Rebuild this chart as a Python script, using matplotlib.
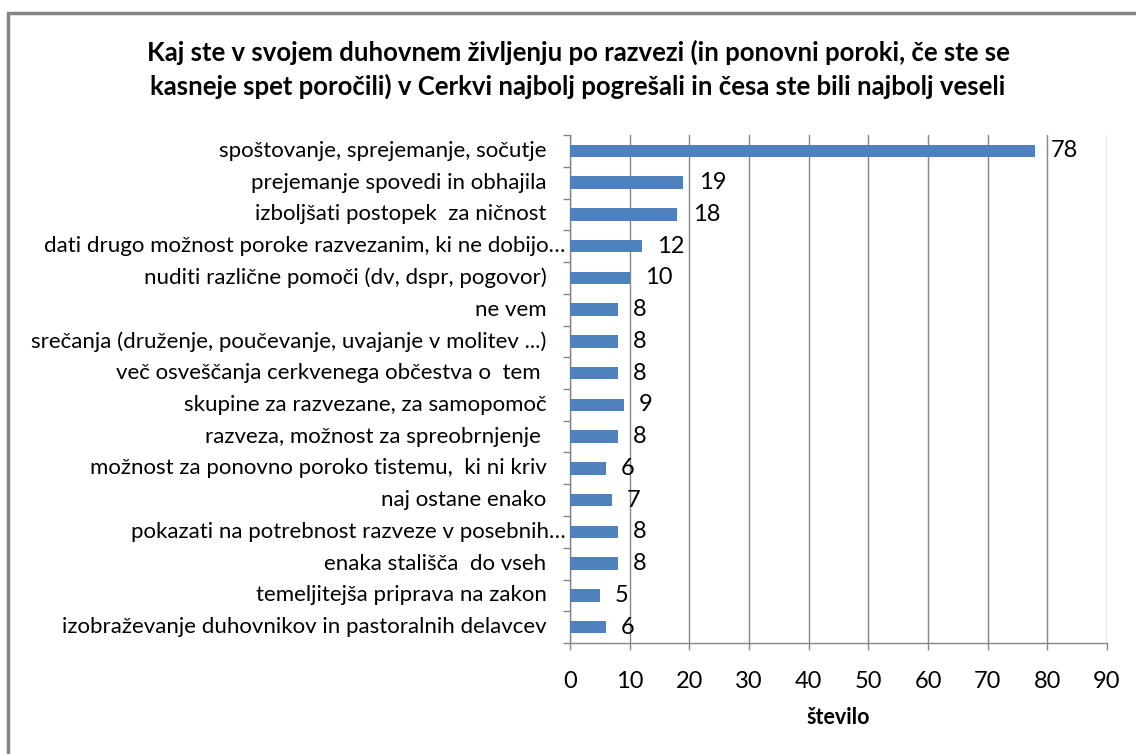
import matplotlib
matplotlib.use("Agg")
import matplotlib.pyplot as plt
import numpy as np
from matplotlib.patches import Rectangle

plt.rcParams['font.family'] = ['Lato', 'DejaVu Sans']

# data (top to bottom as in the chart)
categories = [
    "spoštovanje, sprejemanje, sočutje",
    "prejemanje spovedi in obhajila",
    "izboljšati postopek  za ničnost",
    "dati drugo možnost poroke razvezanim, ki ne dobijo…",
    "nuditi različne pomoči (dv, dspr, pogovor)",
    "ne vem",
    "srečanja (druženje, poučevanje, uvajanje v molitev ...)",
    "več osveščanja cerkvenega občestva o  tem ",
    "skupine za razvezane, za samopomoč",
    "razveza, možnost za spreobrnjenje ",
    "možnost za ponovno poroko tistemu,  ki ni kriv",
    "naj ostane enako",
    "pokazati na potrebnost razveze v posebnih…",
    "enaka stališča  do vseh",
    "temeljitejša priprava na zakon",
    "izobraževanje duhovnikov in pastoralnih delavcev",
]
values = [78, 19, 18, 12, 10, 8, 8, 8, 9, 8, 6, 7, 8, 8, 5, 6]
truncated = {3, 12}

title = ("Kaj ste v svojem duhovnem življenju po razvezi (in ponovni poroki, če ste se\n"
         "kasneje spet poročili) v Cerkvi najbolj pogrešali in česa ste bili najbolj veseli")

grey = '#868686'
bar_color = '#4F81BD'

fig = plt.figure(figsize=(11.36, 7.54), dpi=100)
fig.patch.set_facecolor('white')
# outer chart border (right/bottom edges fall outside the picture)
fig.patches.append(Rectangle((8 / 1136, -0.05), 1.1, 1 - 13 / 754 + 0.05,
                             transform=fig.transFigure, fill=False,
                             edgecolor=grey, linewidth=2.5, zorder=0))

ax = fig.add_axes([570 / 1136, 1 - 643 / 754, (1107 - 570) / 1136, (643 - 135) / 754])

y = np.arange(len(categories))
ax.barh(y, values, height=0.4, color=bar_color, zorder=3)
ax.set_ylim(len(categories) - 0.5, -0.5)
ax.set_xlim(0, 90)
ax.set_xticks(np.arange(0, 91, 10))

# value labels
for i, v in enumerate(values):
    ax.annotate(str(v), xy=(v, i), xytext=(11, 0), textcoords='offset points',
                ha='left', va='center', fontsize=17, color='black')

# category labels
ax.set_yticks(y)
ax.set_yticklabels([])
ax.tick_params(axis='y', length=0)
ax.set_yticks(np.arange(-0.5, len(categories), 1), minor=True)
ax.tick_params(axis='y', which='minor', length=5, direction='out', color=grey, width=1)
for i, lab in enumerate(categories):
    pad = -3 if i in truncated else -17
    ax.annotate(lab, xy=(0, i), xycoords=('axes fraction', 'data'),
                xytext=(pad, 0), textcoords='offset points',
                ha='right', va='center', fontsize=16, color='black')

ax.tick_params(axis='x', length=5, direction='out', color=grey, width=1,
               labelsize=17, pad=15)
ax.grid(axis='x', color=grey, linewidth=1, zorder=0)
for side in ['top', 'right']:
    ax.spines[side].set_visible(False)
for side in ['left', 'bottom']:
    ax.spines[side].set_color(grey)
    ax.spines[side].set_linewidth(1)

ax.set_xlabel('število', fontsize=15.5, fontweight='bold', labelpad=11)
fig.text(578 / 1136, 1 - 69 / 754, title, ha='center', va='center',
         fontsize=18.5, fontweight='bold', linespacing=1.4)

fig.savefig('out.png', dpi=100)
